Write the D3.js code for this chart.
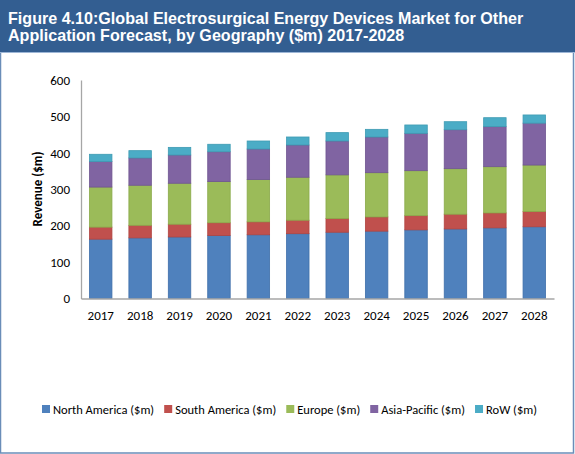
<!DOCTYPE html>
<html><head><meta charset="utf-8">
<script src="https://cdn.jsdelivr.net/npm/d3@7"></script>
<style>
html,body{margin:0;padding:0;background:#fff;}
svg{display:block;}
</style>
</head><body>
<svg id="c" width="575" height="454"></svg>
<script>
const years = ["2017","2018","2019","2020","2021","2022","2023","2024","2025","2026","2027","2028"];
const seriesNames = ["North America ($m)","South America ($m)","Europe ($m)","Asia-Pacific ($m)","RoW ($m)"];
const northAmerica = [163,166.5,169,173,175,178,182,185,188.5,191,194,197];
const southAmerica = [33,34.5,35,35,35.5,37,37.5,39,39,40.5,41,42];
const europe = [110,110,112.5,113,116,118,120,121.5,123.5,125,127,127.5];
const asiaPacific = [70,75,77.5,82,84,88.5,93,98,102.5,107,110,115];
const row = [20,20,21,20.5,22,22,23,21,23,22,24.5,22.5];
const yTicks = [0,100,200,300,400,500,600];
const colors = ["#4F81BD","#C0504D","#9BBB59","#8064A2","#4BACC6"];
const strokes = ["#3F6FAA","#B04440","#8AAA4A","#6F5591","#3E9BB3"];

const allSeries = [northAmerica, southAmerica, europe, asiaPacific, row];
const table = years.map((y,i)=>{const o={year:y}; seriesNames.forEach((s,k)=>o[s]=allSeries[k][i]); return o;});
const stacked = d3.stack().keys(seriesNames)(table);

const svg = d3.select("#c");
const font = "Carlito, Calibri, 'Open Sans', Lato, sans-serif";

// frame
svg.append("rect").attr("x",0.5).attr("y",0.5).attr("width",573).attr("height",452.5)
  .attr("fill","#fff").attr("stroke","#6A8DB8").attr("stroke-width",1.5);
// banner
svg.append("rect").attr("x",0).attr("y",0).attr("width",575).attr("height",52).attr("fill","#335E91");
svg.append("line").attr("x1",0).attr("x2",575).attr("y1",52.5).attr("y2",52.5).attr("stroke","#9DB6D6").attr("stroke-width",1);
const tf = "Arial, 'Liberation Sans', sans-serif";
svg.append("text").attr("x",8).attr("y",24).attr("fill","#fff")
  .attr("font-family",tf).attr("font-weight","bold").attr("font-size",16.1)
  .text("Figure 4.10:Global Electrosurgical Energy Devices Market for Other");
svg.append("text").attr("x",8).attr("y",41).attr("fill","#fff")
  .attr("font-family",tf).attr("font-weight","bold").attr("font-size",16.1)
  .text("Application Forecast, by Geography ($m) 2017-2028");

const x = d3.scaleBand().domain(years).range([81,554]).paddingInner(0.43).paddingOuter(0.215);
const y = d3.scaleLinear().domain([0,600]).range([298.5,80]);

// bars
const g = svg.append("g");
stacked.forEach((layer,k)=>{
  g.append("g").selectAll("rect").data(layer).enter().append("rect")
    .attr("x",d=>x(d.data.year)).attr("width",x.bandwidth())
    .attr("y",d=>y(d[1])).attr("height",d=>y(d[0])-y(d[1]))
    .attr("fill",colors[k]).attr("stroke",strokes[k]).attr("stroke-width",0.8);
});

// axes
const yAxis = d3.axisLeft(y).tickValues(yTicks).tickSize(0).tickPadding(11);
const ya = svg.append("g").attr("transform","translate(81,0)").call(yAxis);
ya.select(".domain").attr("stroke","#A6A6A6").attr("stroke-width",1.3);
ya.selectAll("text").attr("font-family",font).attr("font-size",13).attr("fill","#000");

const xAxis = d3.axisBottom(x).tickSize(0).tickPadding(12);
const xa = svg.append("g").attr("transform","translate(0,298.5)").call(xAxis);
xa.select(".domain").attr("stroke","#A6A6A6").attr("stroke-width",1.3);
xa.selectAll("text").attr("font-family",font).attr("font-size",13).attr("fill","#000");

svg.append("text").attr("transform","translate(42,189) rotate(-90)").attr("text-anchor","middle")
  .attr("font-family",font).attr("font-weight","bold").attr("font-size",13).attr("fill","#000")
  .text("Revenue ($m)");

// legend: fitted between x=42 and x=537
const lg = svg.append("g").attr("font-family",font).attr("font-size",12.5);
const items = seriesNames.map((s,k)=>{
  const r = lg.append("rect").attr("y",405).attr("width",8).attr("height",8).attr("fill",colors[k]);
  const t = lg.append("text").attr("y",414).attr("fill","#000").text(s);
  return {r,t,w:t.node().getComputedTextLength()};
});
const total = d3.sum(items,d=>11+d.w);
const gap = (537-42-total)/(items.length-1);
let lx = 42;
items.forEach(d=>{
  d.r.attr("x",lx); d.t.attr("x",lx+11);
  lx += 11 + d.w + gap;
});
</script>
</body></html>
